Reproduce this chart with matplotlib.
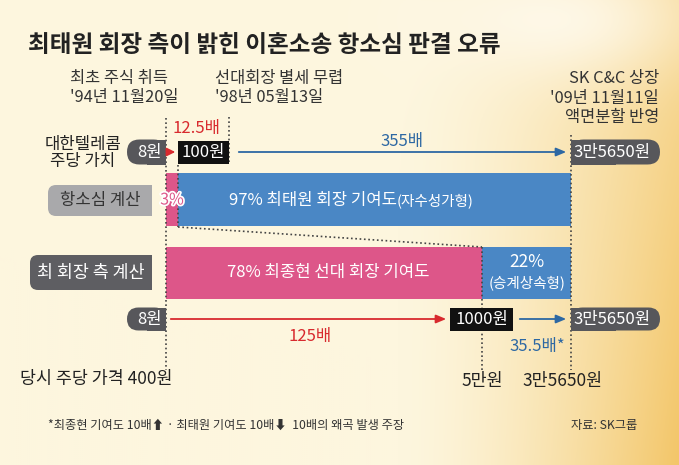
import numpy as np
import matplotlib
matplotlib.use("Agg")
import matplotlib.pyplot as plt
from matplotlib.patches import FancyBboxPatch, Rectangle
import matplotlib.patheffects as pe

plt.rcParams['font.family'] = ['Noto Sans CJK KR', 'DejaVu Sans']

# 데이터
title = "최태원 회장 측이 밝힌 이혼소송 항소심 판결 오류"
dates = ["최초 주식 취득\n'94년 11월20일", "선대회장 별세 무렵\n'98년 05월13일",
         "SK C&C 상장\n'09년 11월11일\n액면분할 반영"]
row_labels = ["항소심 계산", "최 회장 측 계산"]
shares_appeal = [3, 97]      # 최종현, 최태원 (%)
shares_claim = [78, 22]
prices_appeal = ["8원", "100원", "3만5650원"]
prices_claim = ["8원", "1000원", "3만5650원"]
multiples = ["12.5배", "355배", "125배", "35.5배*"]
bottom_prices = ["당시 주당 가격 400원", "5만원", "3만5650원"]

PINK = "#DD5689"
BLUE = "#4A87C5"
DARK = "#57575B"
RED = "#D82A2E"
NAVY = "#2D68A3"
DOT = (0, (1, 1.6))
W = "medium"

fig = plt.figure(figsize=(6.79, 4.65), dpi=100)

# 배경 그라데이션
bg = fig.add_axes([0, 0, 1, 1], zorder=0)
bg.axis("off")
xx, yy = np.meshgrid(np.linspace(0, 679, 340), np.linspace(0, 465, 233))
base = np.array([253, 246, 222]) / 255
gold = np.array([243, 198, 105]) / 255
light = np.array([255, 251, 240]) / 255
t = np.clip((xx - 400) / 279, 0, 1) ** 1.5 * (0.6 + 0.4 * np.clip(yy / 465, 0, 1))
img = base[None, None, :] * (1 - t[..., None]) + gold[None, None, :] * t[..., None]
g = np.exp(-(((xx - 560) / 130) ** 2 + ((yy - 20) / 60) ** 2)) * 0.8
img = img * (1 - g[..., None]) + light[None, None, :] * g[..., None]
bg.imshow(img, extent=(0, 679, 465, 0), aspect="auto")
bg.set_xlim(0, 679)
bg.set_ylim(465, 0)

# 기여도 막대 (별도 축: 0~100%)
bx = fig.add_axes([166 / 679, 0, 405 / 679, 1], zorder=1)
bx.set_xlim(0, 100)
bx.set_ylim(465, 0)
bx.axis("off")
bx.patch.set_alpha(0)
bar_y = [199.5, 273]
bar_h = [53, 52]
for yc, h, shares in zip(bar_y, bar_h, [shares_appeal, shares_claim]):
    bx.barh([yc, yc], shares, left=[0, shares[0]], height=h,
            color=[PINK, BLUE], edgecolor="none")

# 텍스트/주석 축
ax = fig.add_axes([0, 0, 1, 1], zorder=2)
ax.set_xlim(0, 679)
ax.set_ylim(465, 0)
ax.axis("off")
ax.patch.set_alpha(0)

ax.text(28, 45, title, fontsize=17, fontweight="bold", color="#222222",
        va="center", ha="left")
ax.text(70, 88, dates[0], fontsize=11.8, color="#333333", va="center",
        ha="left", linespacing=1.2, fontweight=W)
ax.text(215, 88, dates[1], fontsize=11.8, color="#333333", va="center",
        ha="left", linespacing=1.2, fontweight=W)
ax.text(659, 98, dates[2], fontsize=11.8, color="#333333", va="center",
        ha="right", linespacing=1.2, fontweight=W)

# 점선
for xs, ys in [([166, 166], [118, 370]), ([229, 229], [117, 164]),
               ([178, 178], [165, 227]), ([178, 482], [227, 247]),
               ([482, 482], [247, 370]), ([571, 571], [135, 370])]:
    ax.plot(xs, ys, color="#444444", lw=1.2, ls=DOT, zorder=3)


def pill(x0, x1, yc, h, text, color, tcolor="white", round_side="left", fs=12, rs=None):
    rs = h / 2 if rs is None else rs
    ax.add_patch(FancyBboxPatch((x0, yc - h / 2), x1 - x0, h,
                                boxstyle=f"round,pad=0,rounding_size={rs}",
                                fc=color, ec="none", zorder=4))
    if round_side == "left":
        ax.add_patch(Rectangle(((x0 + x1) / 2, yc - h / 2), (x1 - x0) / 2, h,
                               fc=color, ec="none", zorder=4))
    elif round_side == "right":
        ax.add_patch(Rectangle((x0, yc - h / 2), (x1 - x0) / 2, h,
                               fc=color, ec="none", zorder=4))
    shift = 3 if round_side == "left" else -3
    ax.text((x0 + x1) / 2 + shift, yc, text, fontsize=fs, color=tcolor,
            ha="center", va="center", zorder=5, fontweight=W)


# 대한텔레콤 주당 가치 행
ax.text(83, 153, "대한텔레콤\n주당 가치", fontsize=12, color="#222222",
        ha="center", va="center", linespacing=1.05, fontweight=W)
pill(127, 166, 152, 25, prices_appeal[0], DARK, round_side="left")
ax.add_patch(Rectangle((178, 141), 51, 23, fc="#111111", ec="none", zorder=4))
ax.text(203.5, 152.5, prices_appeal[1], fontsize=12, color="white",
        ha="center", va="center", zorder=5, fontweight=W)
pill(571, 660, 152, 25, prices_appeal[2], DARK, round_side="right")
ax.annotate("", xy=(178, 152), xytext=(167, 152),
            arrowprops=dict(arrowstyle="-|>,head_length=0.5,head_width=0.25",
                            color=RED, lw=1.2), zorder=5)
ax.annotate("", xy=(569, 152), xytext=(236, 152),
            arrowprops=dict(arrowstyle="-|>,head_length=0.6,head_width=0.25",
                            color=NAVY, lw=1.3), zorder=5)
ax.text(196, 128, multiples[0], fontsize=12, color=RED, ha="center", va="center",
        fontweight=W)
ax.text(402, 141, multiples[1], fontsize=12, color=NAVY, ha="center", va="center",
        fontweight=W)

# 항소심 계산
ax.add_patch(FancyBboxPatch((48, 185), 104, 31, boxstyle="round,pad=0,rounding_size=8",
                            fc="#A9A9AB", ec="none", zorder=4))
ax.add_patch(Rectangle((110, 185), 42, 31, fc="#A9A9AB", ec="none", zorder=4))
ax.text(100, 200.5, row_labels[0], fontsize=12, color="#333333",
        ha="center", va="center", zorder=5, fontweight=W)
ax.text(172, 200, f"{shares_appeal[0]}%", fontsize=11.5, color=PINK, ha="center",
        va="center", zorder=6, fontweight=W,
        path_effects=[pe.withStroke(linewidth=2.5, foreground="white")])
ax.text(397, 200, f"{shares_appeal[1]}% 최태원 회장 기여도", fontsize=12,
        color="white", ha="right", va="center", zorder=6, fontweight=W)
ax.text(397, 201, "(자수성가형)", fontsize=10.5, color="white", ha="left",
        va="center", zorder=6)

# 최 회장 측 계산
ax.add_patch(FancyBboxPatch((30, 255), 122, 35, boxstyle="round,pad=0,rounding_size=8",
                            fc="#5E5E62", ec="none", zorder=4))
ax.add_patch(Rectangle((110, 255), 42, 35, fc="#5E5E62", ec="none", zorder=4))
ax.text(91, 272.5, row_labels[1], fontsize=12.5, color="white",
        ha="center", va="center", zorder=5, fontweight=W)
ax.text(328, 272, f"{shares_claim[0]}% 최종현 선대 회장 기여도", fontsize=12,
        color="white", ha="center", va="center", zorder=6, fontweight=W)
ax.text(527, 262, f"{shares_claim[1]}%", fontsize=12.5, color="white",
        ha="center", va="center", zorder=6, fontweight=W)
ax.text(527, 283, "(승계상속형)", fontsize=10.5, color="white",
        ha="center", va="center", zorder=6)

# 최 회장 측 가격 행
pill(127, 166, 319, 23, prices_claim[0], DARK, round_side="left")
ax.annotate("", xy=(449, 319), xytext=(168, 319),
            arrowprops=dict(arrowstyle="-|>,head_length=0.6,head_width=0.25",
                            color=RED, lw=1.3), zorder=5)
ax.add_patch(Rectangle((450, 308), 63, 23, fc="#111111", ec="none", zorder=4))
ax.text(481.5, 319.5, prices_claim[1], fontsize=12, color="white",
        ha="center", va="center", zorder=5, fontweight=W)
ax.annotate("", xy=(569, 319), xytext=(517, 319),
            arrowprops=dict(arrowstyle="-|>,head_length=0.6,head_width=0.25",
                            color=NAVY, lw=1.3), zorder=5)
pill(571, 660, 319, 23, prices_claim[2], DARK, round_side="right")
ax.text(310, 336, multiples[2], fontsize=12, color=RED, ha="center", va="center",
        fontweight=W)
ax.text(537, 346, multiples[3], fontsize=12, color=NAVY, ha="center", va="center",
        fontweight=W)

# 하단 가격
ax.text(20, 379, bottom_prices[0], fontsize=12.5, color="#222222", ha="left",
        va="center", fontweight=W)
ax.text(482, 381, bottom_prices[1], fontsize=12.5, color="#222222", ha="center",
        va="center", fontweight=W)
ax.text(563, 381, bottom_prices[2], fontsize=12.5, color="#222222", ha="center",
        va="center", fontweight=W)

# 각주
ax.text(48, 425, "*최종현 기여도 10배⬆ · 최태원 기여도 10배⬇  10배의 왜곡 발생 주장",
        fontsize=8.8, color="#333333", ha="left", va="center")
ax.text(637, 425, "자료: SK그룹", fontsize=8.8, color="#333333", ha="right", va="center")

fig.savefig("out.png", dpi=100)
